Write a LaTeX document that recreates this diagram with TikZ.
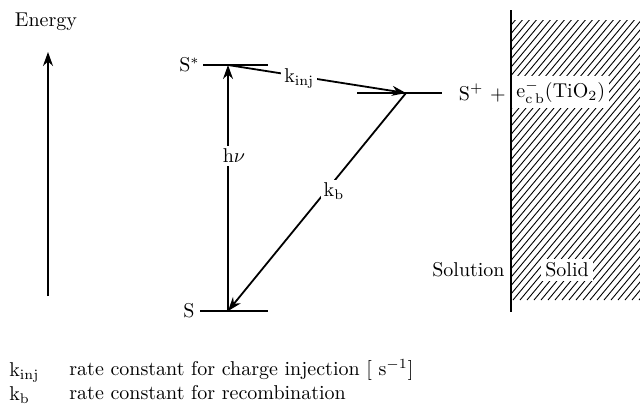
\documentclass[tikz,border=0pt]{standalone}
\usetikzlibrary{arrows.meta,calc}
\begin{document}
\begin{tikzpicture}[x=0.5pt,y=-0.5pt,
  lvl/.style={line width=0.9pt},
  arr/.style={line width=0.9pt,-{Stealth[length=7pt,width=5pt]}},
  lbl/.style={font=\normalsize,inner sep=1.5pt},
  gap/.style={fill=white,inner sep=1.5pt},
  hatch/.style={line width=0.45pt}]
\useasboundingbox (0,0) rectangle (640,409);
% solid region with hatching
\begin{scope}
  \clip (512,20) rectangle (640,300);
  \foreach \i in {-300,-293,...,140} {
    \draw[hatch] (512+\i,300) -- ++(250,-300);
  }
\end{scope}
\coordinate (wtop) at (511,10);
\coordinate (wbot) at (511,312);
\draw[line width=1pt] (wtop) -- (wbot);
% energy axis
\node[lbl] (energy) at (46,22) {Energy};
\coordinate (ebot) at (48,296);
\coordinate (etop) at (48,52);
\draw[arr] (ebot) -- (etop);
% levels
\coordinate (sxl) at (203,65);
\coordinate (sxr) at (268,65);
\draw[lvl] (sxl) -- (sxr);
\node[lbl,anchor=east] (sx) at (sxl) {S$^{*}$};
\coordinate (sl) at (200,311);
\coordinate (sr) at (268,311);
\draw[lvl] (sl) -- (sr);
\node[lbl,anchor=east] (s) at ($(sl)+(-2,0)$) {S};
\coordinate (pl) at (357,93);
\coordinate (pr) at (442,93);
\draw[lvl] (pl) -- (pr);
% key points
\coordinate (sxp) at (228,65);
\coordinate (sp) at (228,311);
\coordinate (pp) at (406,93);
% arrows
\draw[arr] (sxp) -- node[gap,pos=0.4,yshift=-1pt] (kinj) {k$_{\mathrm{inj}}$} (pp);
\draw[arr] (sp) -- node[gap,pos=0.63,xshift=3pt] (hnu) {h$\nu$} (sxp);
\draw[arr] (pp) -- node[gap,pos=0.45,xshift=4pt] (kb) {k$_{\mathrm{b}}$} (sp);
% products
\node[lbl,anchor=east] (splus) at (509,93) {S$^+$ +};
\node[lbl,anchor=west,fill=white,inner sep=2pt] (ecb) at (512,92) {e$^-_{\mathrm{c\,b}}$(TiO$_2$)};
% solution / solid
\node[lbl,anchor=east] (solution) at (508,270) {Solution};
\node[lbl,fill=white,inner sep=2pt] (solid) at (567,270) {Solid};
% legend
\node[lbl,anchor=west] (k1) at (6,372) {k$_{\mathrm{inj}}$};
\node[lbl,anchor=west] (t1) at (66,370) {rate constant for charge injection [ s$^{-1}$]};
\node[lbl,anchor=west] (k2) at (6,395) {k$_{\mathrm{b}}$};
\node[lbl,anchor=west] (t2) at (66,393) {rate constant for recombination};
\end{tikzpicture}
\end{document}
